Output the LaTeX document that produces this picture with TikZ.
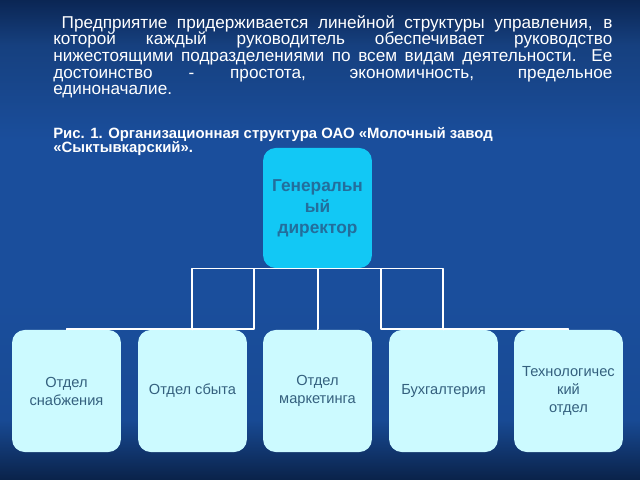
\documentclass[tikz,border=0pt]{standalone}
\usepackage{fontspec}
\setmainfont{Liberation Sans}
\definecolor{boxfill}{HTML}{CCFAFF}
\definecolor{dirfill}{HTML}{12C8F5}
\definecolor{dirtext}{HTML}{236E9C}
\definecolor{boxtext}{HTML}{34607E}
\definecolor{seaA}{HTML}{0B2654}
\definecolor{seaB}{HTML}{16407F}
\definecolor{seaC}{HTML}{1A4E9C}
\definecolor{seaD}{HTML}{184A94}
\definecolor{seaE}{HTML}{0A2249}
\begin{document}
\begin{tikzpicture}[x=0.025cm,y=-0.025cm,line cap=round,line join=round,
	unit/.style={fill=boxfill,rounded corners=9pt,minimum width=2.72cm,minimum height=3.05cm,
		inner sep=1pt,align=center,text=boxtext,font=\fontsize{10.4}{12.8}\selectfont},
	boss/.style={unit,fill=dirfill,minimum height=3cm,text=dirtext,font=\fontsize{12.3}{15}\selectfont\bfseries},
	link/.style={draw=white,line width=1.1pt}]
	% background
	\shade[top color=seaA,bottom color=seaB] (0,0) rectangle (640,45);
	\shade[top color=seaB,bottom color=seaC] (0,45) rectangle (640,140);
	\fill[seaC] (0,140) rectangle (640,300);
	\shade[top color=seaC,bottom color=seaD] (0,300) rectangle (640,420);
	\shade[top color=seaD,bottom color=seaE] (0,420) rectangle (640,480);
	\useasboundingbox (0,0) rectangle (640,480);
	% text
	\node[anchor=north west,text width=13.975cm,align=justify,text=white,inner sep=0pt,
		font=\fontsize{12.2}{11.9}\selectfont] (intro) at (53,15)
		{\hyphenpenalty=10000\hspace*{6pt}Предприятие придерживается линейной структуры управления, в\linebreak
		которой каждый руководитель обеспечивает руководство\linebreak
		нижестоящими подразделениями по всем видам деятельности. Ее\linebreak
		достоинство - простота, экономичность, предельное\linebreak
		единоначалие.};
	\node[anchor=north west,align=left,text=white,inner sep=0pt,
		font=\fontsize{10.6}{10.4}\selectfont\bfseries] (caption) at (53,127)
		{Рис. 1. Организационная структура ОАО «Молочный завод\\«Сыктывкарский».};
	% chart
	\node[boss] (dir) at (317.5,208) {Генеральн\\ый\\директор};
	\node[unit] (snab) at (66.5,391) {Отдел\\снабжения};
	\node[unit] (sbyt) at (192.5,391) {Отдел сбыта};
	\node[unit] (mark) at (317.5,391) {Отдел\\маркетинга};
	\node[unit] (buh) at (443.5,391) {Бухгалтерия};
	\node[unit] (tech) at (568.5,391) {Технологичес\\кий\\отдел};
	\foreach \c/\x in {snab/192,sbyt/254,mark/318,buh/381,tech/443}
	\draw[link] (dir.south) -| (\x,329) -| (\c.north);
\end{tikzpicture}
\end{document}
